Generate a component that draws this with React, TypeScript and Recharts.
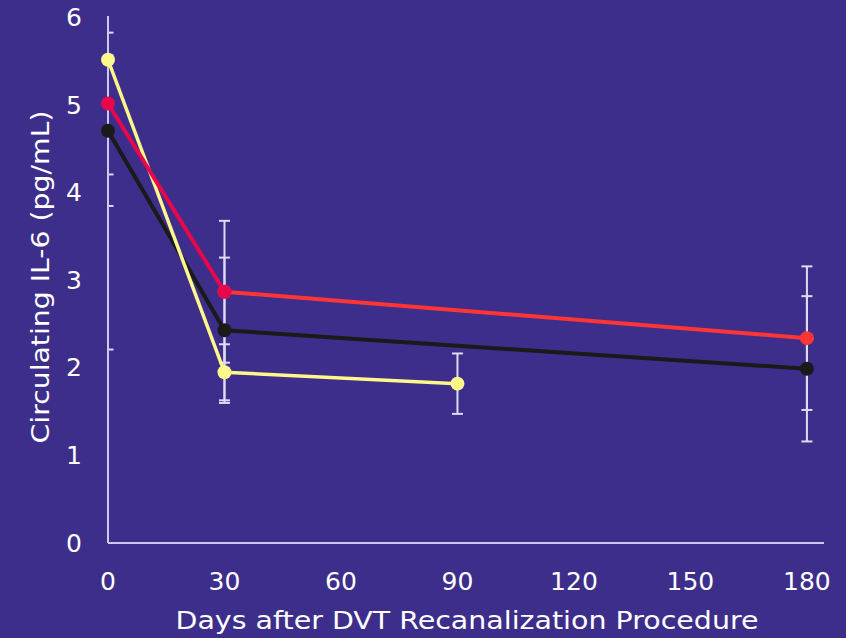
import React from "react";
import { LineChart, Line, XAxis, YAxis, ErrorBar, Label } from "recharts";

const days = [0, 30, 90, 180];
const yellowVals = [5.52, 1.95, 1.82, null];
const yellowErr = [3.31, 0.32, 0.345, null];
const redEarly = [5.02, 2.87, null, null];
const redLate = [null, 2.87, null, 2.34];
const redErr = [0.81, 0.81, null, 0.82];
const blackVals = [4.71, 2.43, null, 1.99];
const blackErr = [0.86, 0.83, null, 0.83];

const xTicks = [0, 30, 60, 90, 120, 150, 180];
const yTicks = [0, 1, 2, 3, 4, 5, 6];

const data = days.map((d, i) => ({
  day: d,
  yellow: yellowVals[i],
  yellowErr: yellowErr[i],
  redA: redEarly[i],
  redB: redLate[i],
  red: redEarly[i] ?? redLate[i],
  redErr: redErr[i],
  black: blackVals[i],
  blackErr: blackErr[i],
}));

const BG = "#3c2e8a";
const AXIS = "#c9cbec";
const ERR = "#dcdcf4";
const FONT = "DejaVu Sans, sans-serif";

const XTick = (props: any) => (
  <text x={props.x} y={581} textAnchor="middle" dominantBaseline="central" fill="#fff" fontSize={25} fontFamily={FONT}>
    {props.payload.value}
  </text>
);

const YTick = (props: any) => (
  <text x={82} y={props.y} textAnchor="end" dominantBaseline="central" fill="#fff" fontSize={25} fontFamily={FONT}>
    {props.payload.value}
  </text>
);

// error bars are cut off at the plot frame, like in the original
const errClip = "url(#plotClip)";

export default function App() {
  return (
    <div style={{ position: "absolute", left: 0, top: 0, width: 846, height: 638, background: BG }}>
      <svg width={0} height={0} style={{ position: "absolute" }}>
        <defs>
          <clipPath id="plotClip" clipPathUnits="userSpaceOnUse">
            <rect x={108} y={16} width={716} height={527} />
          </clipPath>
        </defs>
      </svg>
      <LineChart width={846} height={638} data={data} margin={{ top: 16, right: 22, bottom: 0, left: 0 }}>
        <XAxis
          dataKey="day"
          type="number"
          domain={[0, 184.4]}
          ticks={xTicks}
          height={95}
          axisLine={{ stroke: AXIS, strokeWidth: 2 }}
          tickLine={false}
          tick={<XTick />}
          allowDataOverflow
        >
          <Label
            content={() => (
              <text x={467} y={620} textAnchor="middle" dominantBaseline="central" fill="#fff" fontSize={25} fontFamily={FONT} textLength={583} lengthAdjust="spacingAndGlyphs">
                Days after DVT Recanalization Procedure
              </text>
            )}
          />
        </XAxis>
        <YAxis
          type="number"
          domain={[0, 6.02]}
          ticks={yTicks}
          width={108}
          axisLine={{ stroke: AXIS, strokeWidth: 2 }}
          tickLine={false}
          tick={<YTick />}
          allowDataOverflow
        >
          <Label
            content={() => (
              <text x={40} y={277} transform="rotate(-90 40 277)" textAnchor="middle" dominantBaseline="central" fill="#fff" fontSize={25} fontFamily={FONT} textLength={333} lengthAdjust="spacingAndGlyphs">
                Circulating IL-6 (pg/mL)
              </text>
            )}
          />
        </YAxis>

        {/* error bars first so every dot sits above them */}
        <Line dataKey="black" stroke="none" dot={false} activeDot={false} connectNulls isAnimationActive={false}>
          <ErrorBar dataKey="blackErr" direction="y" width={5.5} stroke={ERR} strokeWidth={2} clipPath={errClip} />
        </Line>
        <Line dataKey="red" stroke="none" dot={false} activeDot={false} connectNulls isAnimationActive={false}>
          <ErrorBar dataKey="redErr" direction="y" width={5.5} stroke={ERR} strokeWidth={2} clipPath={errClip} />
        </Line>
        <Line dataKey="yellow" stroke="none" dot={false} activeDot={false} connectNulls isAnimationActive={false}>
          <ErrorBar dataKey="yellowErr" direction="y" width={5.5} stroke={ERR} strokeWidth={2} clipPath={errClip} />
        </Line>

        <Line dataKey="black" stroke="#1a1a1a" strokeWidth={4} connectNulls isAnimationActive={false} activeDot={false}
          dot={{ r: 7, fill: "#1a1a1a", stroke: "none", clipDot: false }} />
        <Line dataKey="yellow" stroke="#fdf78c" strokeWidth={3.5} connectNulls isAnimationActive={false} activeDot={false}
          dot={{ r: 7, fill: "#fdf78c", stroke: "none", clipDot: false }} />
        <Line dataKey="redB" stroke="#ff3535" strokeWidth={4} connectNulls isAnimationActive={false} activeDot={false}
          dot={{ r: 7, fill: "#ff3535", stroke: "none", clipDot: false }} />
        <Line dataKey="redA" stroke="#e8064c" strokeWidth={4} connectNulls isAnimationActive={false} activeDot={false}
          dot={{ r: 7, fill: "#e8064c", stroke: "none", clipDot: false }} />
      </LineChart>
    </div>
  );
}
